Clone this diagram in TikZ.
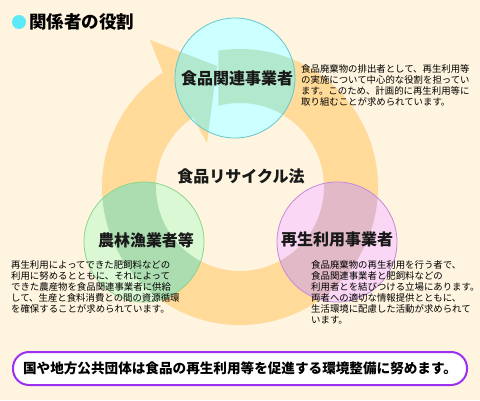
\documentclass[tikz,border=0pt]{standalone}
\usepackage{fontspec}
\setmainfont{Noto Sans CJK JP}
\definecolor{bgc}{HTML}{FEF4DF}
\definecolor{ringc}{HTML}{FFDA98}
\definecolor{cyanfill}{HTML}{CCFFFF}
\definecolor{cyanline}{HTML}{66C8CC}
\definecolor{cyanmix}{HTML}{B2E8CE}
\definecolor{greenfill}{HTML}{DAF8D3}
\definecolor{greenline}{HTML}{8CD68C}
\definecolor{greenmix}{HTML}{ACDDB0}
\definecolor{pinkfill}{HTML}{FAD7F5}
\definecolor{pinkline}{HTML}{C38ADB}
\definecolor{pinkmix}{HTML}{E2B9C6}
\definecolor{pillline}{HTML}{9B30F0}
\definecolor{dotc}{HTML}{5CEAF8}
\begin{document}
\begin{tikzpicture}[x=1pt,y=1pt,
  ringpath/.style={insert path={
    ([shift={(240,213)}]99:138) arc[start angle=99, end angle=-236, radius=138]
    -- (150,360) -- (217,334) -- (207,257)
    -- ([shift={(240,213)}]-236:84) arc[start angle=-236, end angle=105, radius=84] -- cycle}},
  lab/.style={font=\bfseries\fontsize{16}{18}\selectfont, inner sep=0, text=black!90},
  desc/.style={font=\fontsize{9.4}{11}\selectfont, align=left, inner sep=0, anchor=north west}]
\useasboundingbox (0,0) rectangle (480,400);
\fill[bgc] (0,0) rectangle (480,400);
% circular arrow
\fill[ringc, ringpath];
% circles
\fill[cyanfill] (235,322) circle[radius=60];
\fill[greenfill] (144,158) circle[radius=60];
\fill[pinkfill] (337,158) circle[radius=60];
\begin{scope}
  \clip (235,322) circle[radius=60];
  \fill[cyanmix, ringpath];
\end{scope}
\begin{scope}
  \clip (144,158) circle[radius=60];
  \fill[greenmix, ringpath];
\end{scope}
\begin{scope}
  \clip (337,158) circle[radius=60];
  \fill[pinkmix, ringpath];
\end{scope}
\draw[cyanline, line width=0.8pt] (235,322) circle[radius=60];
\draw[greenline, line width=0.8pt] (144,158) circle[radius=60];
\draw[pinkline, line width=0.8pt] (337,158) circle[radius=60];
% title
\fill[dotc] (19,378) circle[radius=7];
\node[font=\bfseries\fontsize{17.5}{20}\selectfont, anchor=west, inner sep=0] (title) at (29,378) {関係者の役割};
% labels
\node[lab] (c1) at (237,322) {食品関連事業者};
\node[lab] (c2) at (146,160) {農林漁業者等};
\node[lab] (c3) at (337,161) {再生利用事業者};
\node[lab] (law) at (241,224) {食品リサイクル法};
% descriptions
\node[desc] (d1) at (301,336) {食品廃棄物の排出者として、再生利用等\\の実施について中心的な役割を担ってい\\ます。このため、計画的に再生利用等に\\取り組むことが求められています。};
\node[desc] (d2) at (11,140) {再生利用によってできた肥飼料などの\\利用に努めるとともに、それによって\\できた農産物を食品関連事業者に供給\\して、生産と食料消費との間の資源循環\\を確保することが求められています。};
\node[desc] (d3) at (311,140) {食品廃棄物の再生利用を行う者で、\\食品関連事業者と肥飼料などの\\利用者とを結びつける立場にあります。\\両者への適切な情報提供とともに、\\生活環境に配慮した活動が求められて\\います。};
% bottom
\node[draw=pillline, line width=2pt, fill=white, rounded corners=16pt, minimum width=454pt, minimum height=33pt, inner sep=0, font=\bfseries\fontsize{13.6}{16}\selectfont] (gov) at (240,31.5) {国や地方公共団体は食品の再生利用等を促進する環境整備に努めます。};
\end{tikzpicture}
\end{document}
